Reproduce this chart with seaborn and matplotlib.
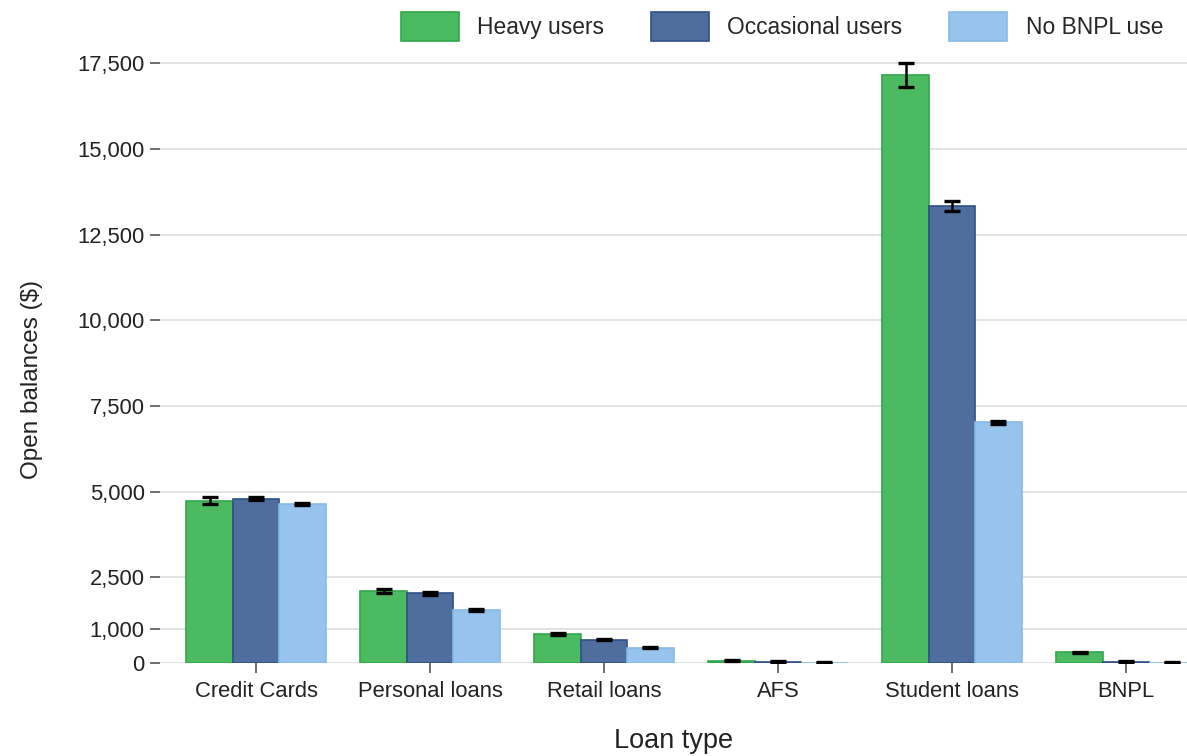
import matplotlib
matplotlib.use("Agg")
import matplotlib.pyplot as plt
import seaborn as sns
import pandas as pd
import numpy as np

categories = ["Credit Cards", "Personal loans", "Retail loans", "AFS", "Student loans", "BNPL"]
groups = ["Heavy users", "Occasional users", "No BNPL use"]
heavy = [4735, 2100, 855, 68, 17150, 312]
occasional = [4792, 2032, 680, 30, 13330, 30]
no_bnpl = [4628, 1546, 447, 12, 7020, 8]
heavy_err = [110, 60, 25, 20, 350, 20]
occasional_err = [50, 40, 20, 15, 150, 15]
no_bnpl_err = [30, 20, 15, 15, 50, 15]
yticks = [0, 1000, 2500, 5000, 7500, 10000, 12500, 15000, 17500]

colors = ["#4cba60", "#4f6e9e", "#96c4ec"]
edges = ["#2fa84a", "#2f5088", "#88bae8"]

rows = []
for g, vals in zip(groups, [heavy, occasional, no_bnpl]):
    for c, v in zip(categories, vals):
        rows.append({"Loan type": c, "group": g, "value": v})
df = pd.DataFrame(rows)

sns.set_theme(style="white")
plt.rcParams["font.family"] = ["Liberation Sans", "DejaVu Sans"]

fig = plt.figure(figsize=(11.87, 7.56), dpi=100)
ax = fig.add_axes([160 / 1187, 93 / 756, 1 - 160 / 1187, 0.816])

sns.barplot(data=df, x="Loan type", y="value", hue="group", order=categories,
            hue_order=groups, palette=colors, errorbar=None, width=0.8,
            saturation=1, ax=ax, zorder=2)

errs = [heavy_err, occasional_err, no_bnpl_err]
bar_containers = list(ax.containers)
for ci, cont in enumerate(bar_containers):
    for bi, bar in enumerate(cont):
        bar.set_edgecolor(edges[ci])
        bar.set_linewidth(1.2)
        xc = bar.get_x() + bar.get_width() / 2
        ax.errorbar(xc, bar.get_height(), yerr=errs[ci][bi], color="black",
                    elinewidth=1.8, capsize=5.5, capthick=2.4, zorder=4, fmt="none")

ax.set_ylim(0, 18000)
ax.set_xlim(-0.552, 5.35)
ax.set_yticks(yticks)
ax.set_yticklabels([f"{t:,}" for t in yticks])
ax.grid(axis="y", color="#e2e2e2", linewidth=1.4, zorder=0)
ax.set_axisbelow(True)
for s in ax.spines.values():
    s.set_visible(False)
ax.tick_params(axis="both", which="major", length=7, width=1.2, color="#555555",
               labelsize=15.8, labelcolor="#222222", pad=4)
ax.tick_params(axis="y", left=True)
ax.tick_params(axis="x", bottom=True, pad=6)
ax.set_ylabel("Open balances ($)", fontsize=17.5, color="#222222")
ax.yaxis.set_label_coords((43 - 160) / 1027, (663 - 379) / 617)
ax.set_xlabel("Loan type", fontsize=19.5, color="#222222", labelpad=19)

handles, labels = ax.get_legend_handles_labels()
if ax.get_legend() is not None:
    ax.get_legend().remove()
leg = fig.legend(handles, labels, loc="upper right", bbox_to_anchor=(1163 / 1187, 1 - 12 / 756),
                 ncol=3, frameon=False, fontsize=16.4, handlelength=2.55, handleheight=1.55,
                 handletextpad=0.8, columnspacing=2.06, borderpad=0.0, borderaxespad=0.0)
for h, e in zip(leg.legend_handles, edges):
    h.set_edgecolor(e)
    h.set_linewidth(1.2)

fig.savefig("out.png", dpi=100)
